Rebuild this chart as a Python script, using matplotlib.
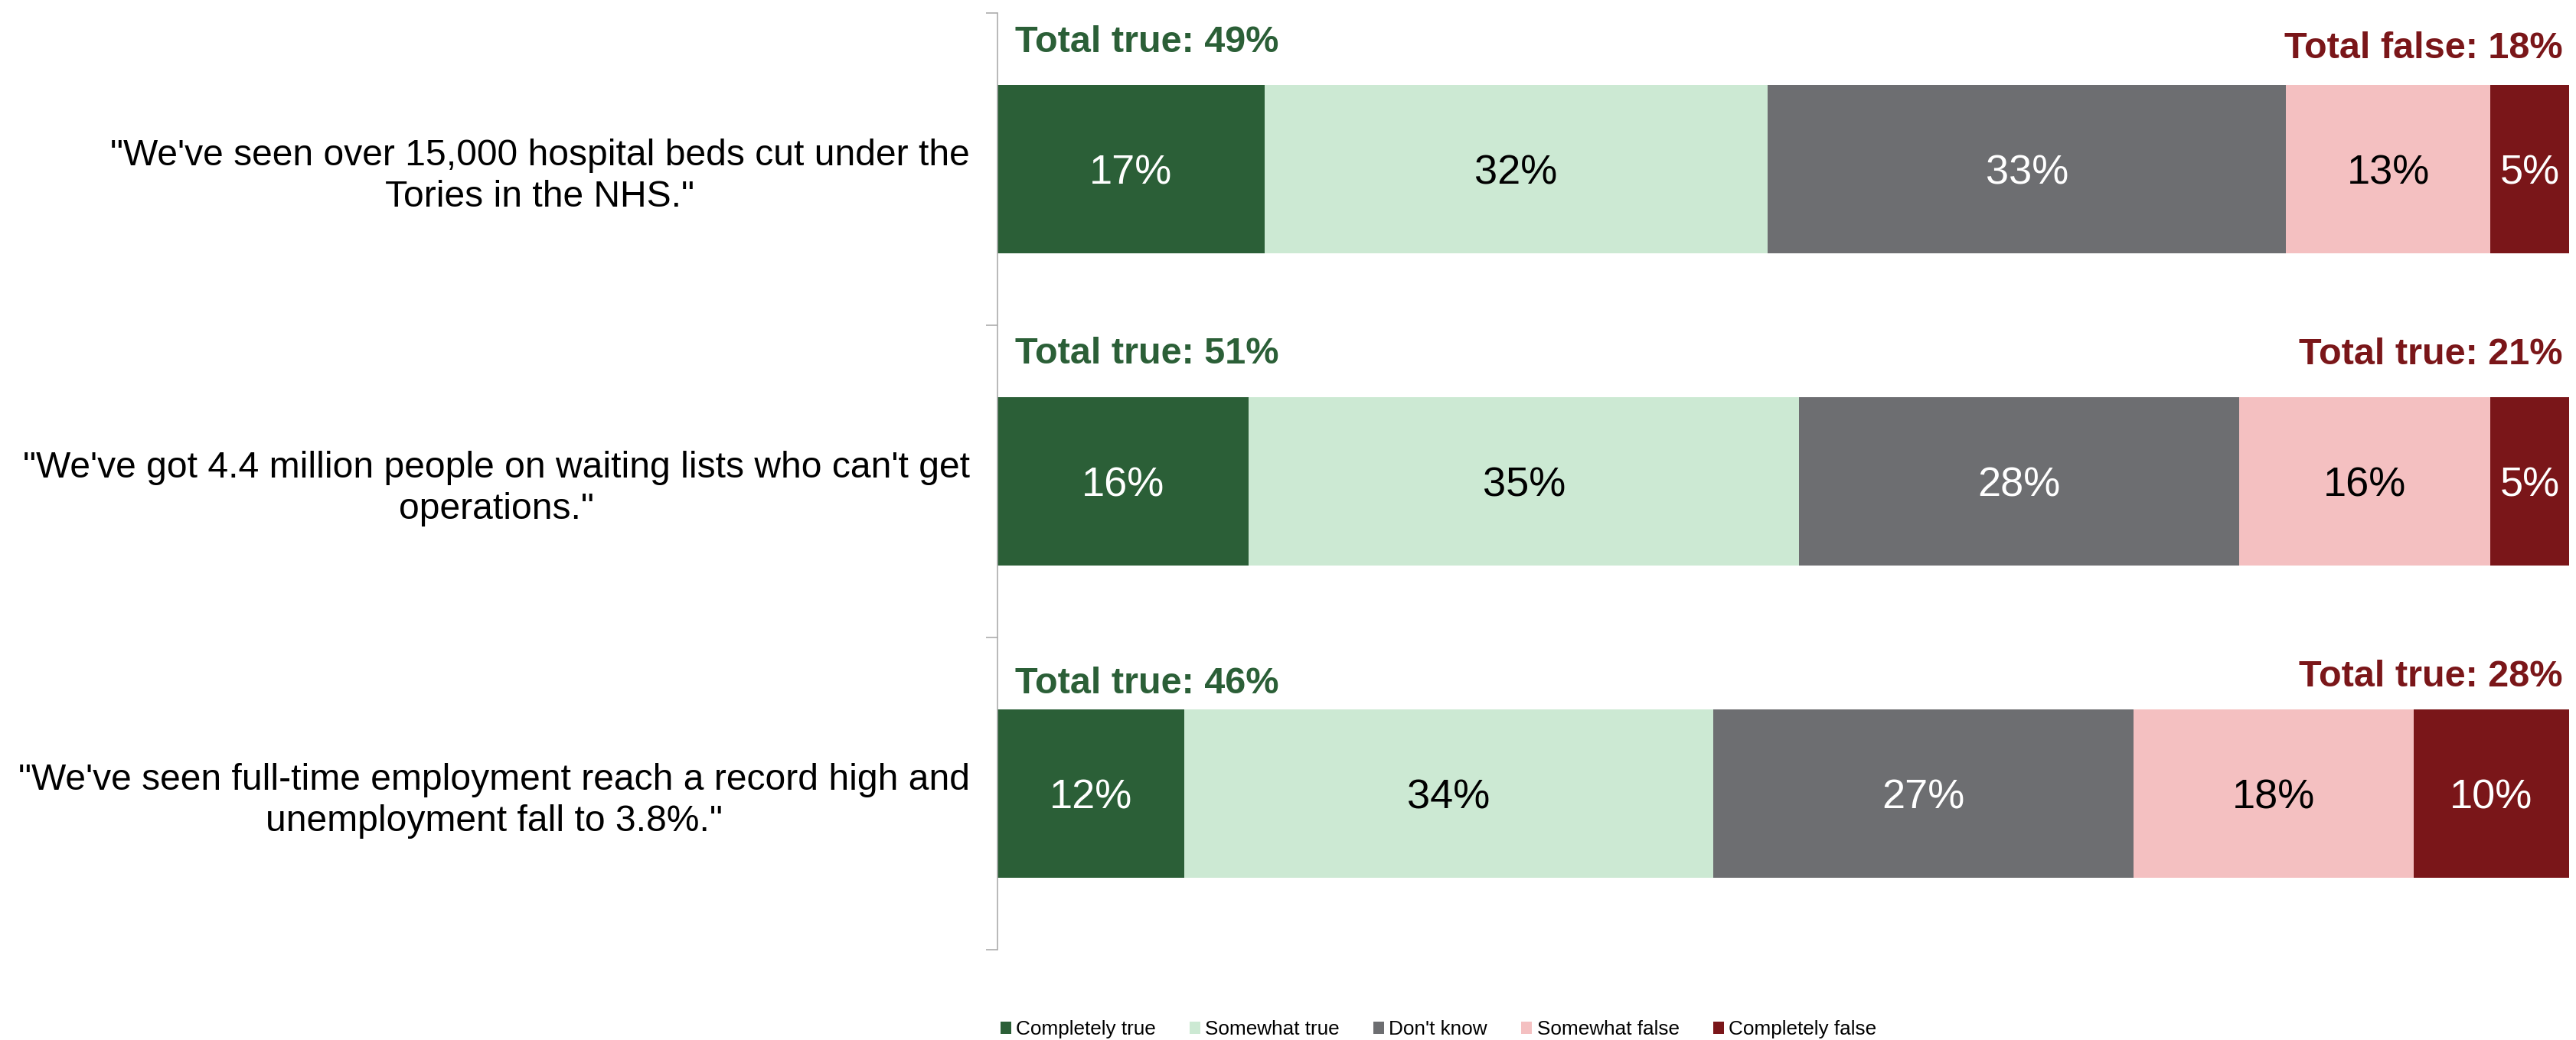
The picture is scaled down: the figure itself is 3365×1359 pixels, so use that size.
import numpy as np
import matplotlib.pyplot as plt
from matplotlib.patches import Patch

plt.rcParams['font.family'] = ['Liberation Sans', 'DejaVu Sans']

# Datos de la encuesta
statements = [
    '"We\'ve seen over 15,000 hospital beds cut under the\nTories in the NHS."',
    '"We\'ve got 4.4 million people on waiting lists who can\'t get\noperations."',
    '"We\'ve seen full-time employment reach a record high and\nunemployment fall to 3.8%."',
]
series_names = ["Completely true", "Somewhat true", "Don't know", "Somewhat false", "Completely false"]
completely_true = [17, 16, 12]
somewhat_true = [32, 35, 34]
dont_know = [33, 28, 27]
somewhat_false = [13, 16, 18]
completely_false = [5, 5, 10]
total_true = [49, 51, 46]
total_right = [18, 21, 28]
right_prefix = ["Total false", "Total true", "Total true"]

colors = ['#2B5F37', '#CCE9D3', '#6D6E71', '#F4C0C1', '#7A1619']
text_colors = ['white', 'black', 'white', 'black', 'white']
green = '#2B5F37'
red = '#7A1619'

# desplazamientos de las etiquetas de totales (linea base, en unidades del eje)
left_off = [-0.375, -0.377, -0.321]
right_off = [-0.355, -0.375, -0.343]

series = [completely_true, somewhat_true, dont_know, somewhat_false, completely_false]
vals = np.array(series, dtype=float)
# barra 100% apilada: normalizar cada fila
widths = vals / vals.sum(axis=0) * 100

fig = plt.figure(figsize=(33.66, 13.59), dpi=100)
ax = fig.add_axes([0.3871, 0.0868, 0.6099, 0.9007])

y = np.arange(len(statements))
left = np.zeros(len(statements))
for i in range(len(series)):
    ax.barh(y, widths[i], left=left, height=0.54, color=colors[i], linewidth=0)
    for j in range(len(statements)):
        ax.text(left[j] + widths[i][j] / 2, y[j], f"{series[i][j]}%", ha='center', va='center_baseline',
                fontsize=39, color=text_colors[i])
    left += widths[i]

# Totales encima de cada barra
for j in range(len(statements)):
    ax.text(1.1, y[j] + left_off[j], f"Total true: {total_true[j]}%", ha='left', va='baseline',
            fontsize=35, fontweight='bold', color=green)
    ax.text(99.6, y[j] + right_off[j], f"{right_prefix[j]}: {total_right[j]}%", ha='right', va='baseline',
            fontsize=35, fontweight='bold', color=red)

ax.set_xlim(0, 100)
ax.set_ylim(2.5, -0.5)
ax.set_xticks([])
ax.set_yticks(y)
ax.set_yticklabels(statements, fontsize=34.6)
for lbl in ax.get_yticklabels():
    lbl.set_multialignment('center')
    lbl.set_linespacing(1.27)
ax.tick_params(axis='y', which='major', length=0, pad=26)
ax.set_yticks([-0.5, 0.5, 1.5, 2.5], minor=True)
ax.tick_params(axis='y', which='minor', length=10.8, width=1.1, color='#A6A6A6')

for s in ['top', 'right', 'bottom']:
    ax.spines[s].set_visible(False)
ax.spines['left'].set_color('#A6A6A6')
ax.spines['left'].set_linewidth(1.1)

handles = [Patch(facecolor=c, edgecolor='none') for c in colors]
fig.legend(handles, series_names, loc='center left', bbox_to_anchor=(1307 / 3366, 1 - 1345 / 1359),
           ncol=5, frameon=False, fontsize=18.8, handlelength=0.52, handleheight=0.56,
           handletextpad=0.25, columnspacing=1.7, borderaxespad=0, borderpad=0)

fig.savefig('out.png', dpi=100)
